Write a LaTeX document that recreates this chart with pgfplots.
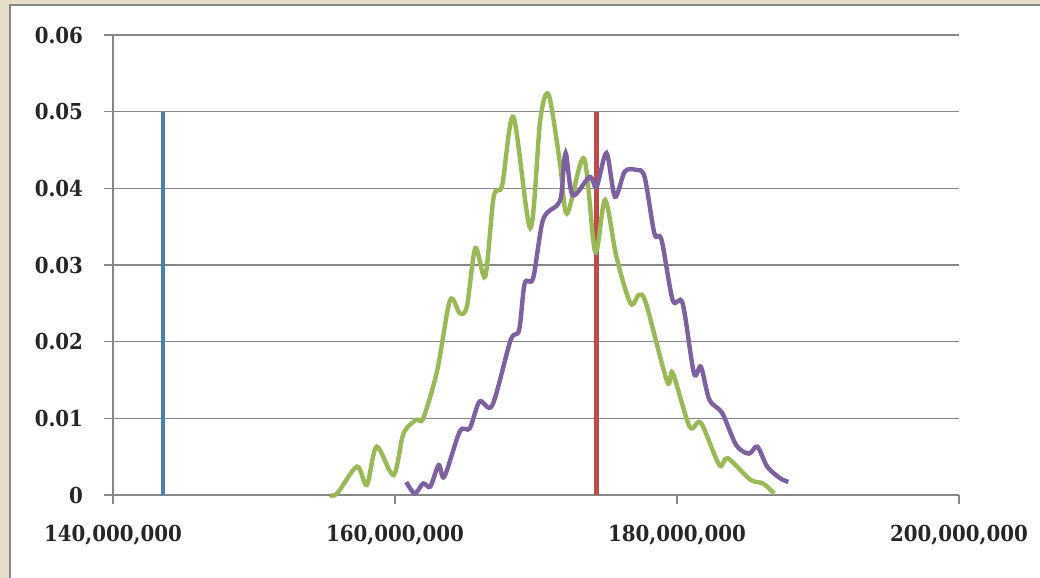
\documentclass[border=0pt]{standalone}
\usepackage{fontspec}
\setmainfont{DejaVu Serif Condensed}
\usepackage{pgfplots}
\pgfplotsset{compat=1.18}
\definecolor{beige}{RGB}{230,222,200}
\definecolor{gridgray}{RGB}{134,134,134}
\definecolor{xlblue}{RGB}{74,126,187}
\definecolor{xlred}{RGB}{190,75,72}
\definecolor{xlgreen}{RGB}{152,185,84}
\definecolor{xlpurple}{RGB}{125,96,160}
\begin{document}
\begin{tikzpicture}
\useasboundingbox (-84.75pt,-62.25pt) rectangle (695.25pt,371.25pt);
\fill[beige] (-84.75pt,-62.25pt) rectangle (695.25pt,371.25pt);
\filldraw[fill=white,draw=gridgray,line width=1.2pt] (-77.25pt,-70pt) rectangle (705pt,367.5pt);
\begin{axis}[
  at={(0,0)}, anchor=south west,
  scale only axis, width=634.5pt, height=345pt,
  xmin=140, xmax=200, ymin=0, ymax=0.06,
  axis x line*=bottom, axis y line*=left,
  axis line style={gridgray, line width=1pt, -},
  xtick={140,160,180,200},
  xticklabels={{140,000,000},{160,000,000},{180,000,000},{200,000,000}},
  ytick={0,0.01,0.02,0.03,0.04,0.05,0.06},
  yticklabels={{0},{0.01},{0.02},{0.03},{0.04},{0.05},{0.06}},
  scaled y ticks=false, scaled x ticks=false,
  ymajorgrids, grid style={gridgray, line width=1pt},
  tick align=outside, major tick length=7pt,
  tick style={gridgray, line width=1pt},
  ticklabel style={font=\fontsize{16.5}{18}\selectfont\bfseries, text=black!85},
  xticklabel style={yshift=-12pt},
  yticklabel style={xshift=-12pt},
  clip=false,
]
\addplot[xlblue, line width=3.3pt] coordinates {(143.55,0) (143.55,0.05)};
\addplot[xlred, line width=3.3pt] coordinates {(174.3,0) (174.3,0.05)};
\addplot[xlgreen, line width=3.3pt, smooth, tension=0.5] table {
155.4 0
155.9 0.0002
157.3 0.0037
158.0 0.0013
158.7 0.0063
159.9 0.0026
160.6 0.0080
161.5 0.0098
162.0 0.0100
163.0 0.0163
163.9 0.0254
164.6 0.0237
165.1 0.0246
165.7 0.0322
166.4 0.0285
167.0 0.0389
167.6 0.0404
168.4 0.0493
169.6 0.0348
170.3 0.0489
170.9 0.0522
171.7 0.0433
172.2 0.0367
173.4 0.0439
174.2 0.0317
174.9 0.0385
175.7 0.0311
176.7 0.0250
177.3 0.0261
177.8 0.0250
179.3 0.0148
179.7 0.0159
180.9 0.0089
181.7 0.0094
183.0 0.0039
183.6 0.0048
185.2 0.0020
186.1 0.0015
186.9 0.0002
};
\addplot[xlpurple, line width=3.3pt, smooth, tension=0.5] table {
160.8 0.0017
161.4 0.0002
162.0 0.0015
162.5 0.0011
163.1 0.0039
163.5 0.0024
164.6 0.0083
165.3 0.0087
166.0 0.0122
166.9 0.0117
168.2 0.0202
168.8 0.0215
169.2 0.0276
169.8 0.0283
170.5 0.0359
171.5 0.0378
171.8 0.0392
172.1 0.0446
172.6 0.0391
173.8 0.0415
174.3 0.0402
175.0 0.0446
175.6 0.0389
176.3 0.0422
177.1 0.0424
177.7 0.0415
178.4 0.0341
178.9 0.0333
179.7 0.0254
180.4 0.0250
181.2 0.0159
181.7 0.0167
182.3 0.0124
183.2 0.0107
184.2 0.0065
185.1 0.0054
185.7 0.0063
186.4 0.0037
187.3 0.0022
187.9 0.0017
};
\end{axis}
\end{tikzpicture}
\end{document}
